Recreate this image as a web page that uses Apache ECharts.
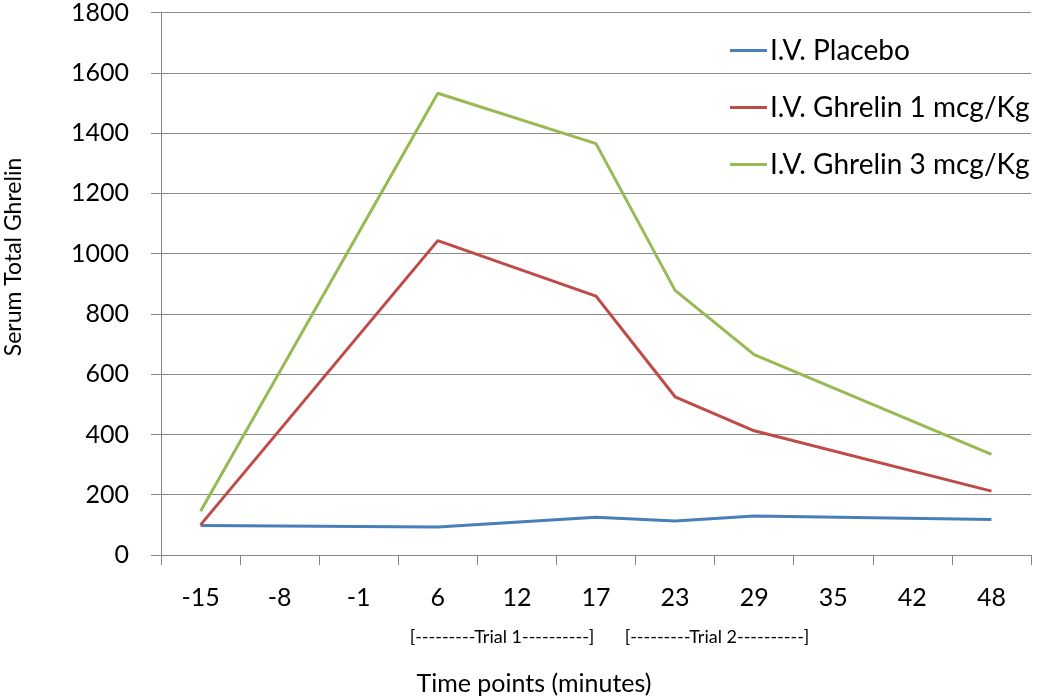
<!DOCTYPE html>
<html>
<head>
<meta charset="utf-8">
<script src="https://cdn.jsdelivr.net/npm/echarts@6/dist/echarts.min.js"></script>
<style>
  html, body { margin: 0; padding: 0; background: #fff; }
  #chart { width: 1050px; height: 699px; }
</style>
</head>
<body>
<div id="chart"></div>
<script>
// time points (minutes) shown on the x axis
const timePoints = ['-15', '-8', '-1', '6', '12', '17', '23', '29', '35', '42', '48'];
const yTicks = [0, 200, 400, 600, 800, 1000, 1200, 1400, 1600, 1800];

// measured only at some time points, the rest are gaps joined by the line
const placebo  = [98, null, null, 93, null, 125, 113, 129, null, null, 118];
const ghrelin1 = [100, null, null, 1043, null, 859, 525, 412, null, null, 212];
const ghrelin3 = [145, null, null, 1532, null, 1365, 878, 665, null, null, 334];

const seriesNames = ['I.V. Placebo', 'I.V. Ghrelin 1 mcg/Kg', 'I.V. Ghrelin 3 mcg/Kg'];
const seriesColors = ['#4a7ebb', '#be4b48', '#98b954'];

const font = 'Lato, "Open Sans", sans-serif';
const chart = echarts.init(document.getElementById('chart'));

function lineSeries(name, data, color) {
  return {
    name,
    type: 'line',
    data,
    connectNulls: true,
    symbol: 'none',
    lineStyle: { color, width: 3 },
    itemStyle: { color }
  };
}

chart.setOption({
  animation: false,
  backgroundColor: '#fff',
  grid: { left: 161, right: 19, top: 12, bottom: 144 },
  legend: {
    orient: 'vertical',
    left: 730,
    top: 34,
    padding: 0,
    itemWidth: 37,
    itemHeight: 3,
    itemGap: 24,
    icon: 'rect',
    data: seriesNames,
    textStyle: { fontFamily: font, fontSize: 28, color: '#000', lineHeight: 33, padding: [0, 0, 0, -2] }
  },
  xAxis: {
    type: 'category',
    data: timePoints,
    boundaryGap: true,
    axisLine: { lineStyle: { color: '#868686', width: 1 } },
    axisTick: { show: true, length: 10, lineStyle: { color: '#868686' } },
    axisLabel: { fontFamily: font, fontSize: 25, color: '#000', margin: 30 }
  },
  yAxis: {
    type: 'value',
    min: yTicks[0],
    max: yTicks[yTicks.length - 1],
    interval: 200,
    axisLine: { show: true, lineStyle: { color: '#868686', width: 1 } },
    axisTick: { show: true, length: 10, lineStyle: { color: '#868686' } },
    axisLabel: { fontFamily: font, fontSize: 25, color: '#000', margin: 32, formatter: v => String(v) },
    splitLine: { lineStyle: { color: '#8c8c8c', width: 1 } }
  },
  graphic: [
    {
      type: 'text', x: 14, y: 257, rotation: Math.PI / 2,
      style: { text: 'Serum Total Ghrelin', fontFamily: font, fontSize: 23, fill: '#000', align: 'center', verticalAlign: 'middle' }
    },
    {
      type: 'text', x: 502, y: 637,
      style: { text: '[---------Trial 1----------]', fontFamily: font, fontSize: 18, fill: '#000', align: 'center', verticalAlign: 'middle' }
    },
    {
      type: 'text', x: 717, y: 637,
      style: { text: '[---------Trial 2----------]', fontFamily: font, fontSize: 18, fill: '#000', align: 'center', verticalAlign: 'middle' }
    },
    {
      type: 'text', x: 534, y: 684,
      style: { text: 'Time points (minutes)', fontFamily: font, fontSize: 25, fill: '#000', align: 'center', verticalAlign: 'middle' }
    }
  ],
  series: [
    lineSeries(seriesNames[0], placebo, seriesColors[0]),
    lineSeries(seriesNames[1], ghrelin1, seriesColors[1]),
    lineSeries(seriesNames[2], ghrelin3, seriesColors[2])
  ]
});
</script>
</body>
</html>
